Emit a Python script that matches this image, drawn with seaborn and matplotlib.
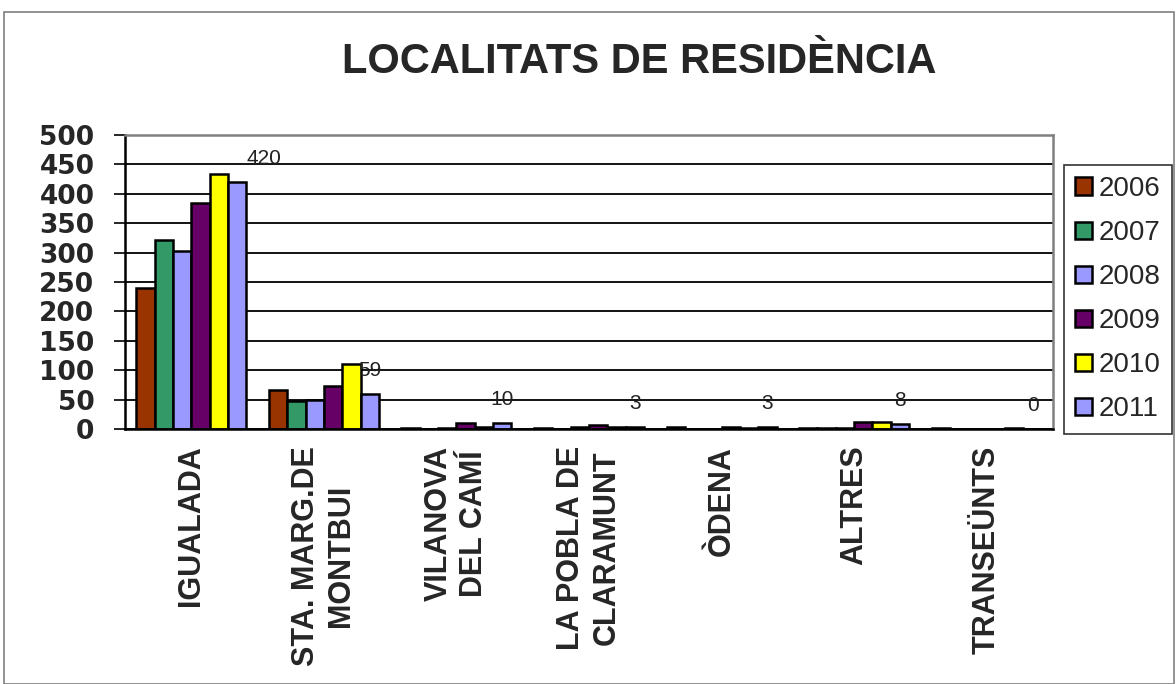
import matplotlib
matplotlib.use("Agg")
import matplotlib.pyplot as plt
from matplotlib.patches import Rectangle
from matplotlib.ticker import FixedLocator
import seaborn as sns
import pandas as pd
import numpy as np

# ---- data ----
localitats = ["IGUALADA", "STA. MARG.DE\nMONTBUI", "VILANOVA\nDEL CAMÍ",
              "LA POBLA DE\nCLARAMUNT", "ÒDENA", "ALTRES", "TRANSEÜNTS"]
anys = ["2006", "2007", "2008", "2009", "2010", "2011"]
v2006 = [239, 66, 2, 2, 4, 2, 1]
v2007 = [321, 48, 0, 0, 0, 2, 0]
v2008 = [303, 49, 2, 4, 0, 2, 0]
v2009 = [384, 73, 10, 7, 4, 12, 0]
v2010 = [434, 110, 4, 4, 2, 12, 2]
v2011 = [420, 59, 10, 3, 3, 8, 0]
colors = ["#993300", "#339966", "#9999FF", "#660066", "#FFFF00", "#9999FF"]
title = "LOCALITATS DE RESIDÈNCIA"

series = [v2006, v2007, v2008, v2009, v2010, v2011]
rows = []
for a, vals in zip(anys, series):
    for loc, v in zip(localitats, vals):
        rows.append({"loc": loc, "any": a, "val": v})
df = pd.DataFrame(rows)

sns.set_style("white")
plt.rcParams["font.family"] = ["Liberation Sans", "DejaVu Sans"]

W, H = 1176, 684
fig = plt.figure(figsize=(W / 100, H / 100), dpi=100)
left, right, top, bottom = 125, 1053, 135, 429
ax = fig.add_axes([left / W, 1 - bottom / H, (right - left) / W, (bottom - top) / H])

sns.barplot(data=df, x="loc", y="val", hue="any", order=localitats, hue_order=anys,
            palette=dict(zip(anys, colors)), width=0.83, gap=0,
            edgecolor="black", linewidth=1.8, saturation=1, ax=ax, legend=True,
            errorbar=None)

ax.set_ylim(0, 500)
ax.set_xlim(-0.5, len(localitats) - 0.5)
ax.set_yticks(np.arange(0, 501, 50))
ax.set_yticklabels([str(t) for t in range(0, 501, 50)], fontsize=19, fontweight="bold",
                   family=["DejaVu Sans"])
ax.set_xlabel("")
ax.set_ylabel("")

ax.set_xticks(range(len(localitats)))
ax.set_xticklabels(localitats, rotation=90, fontsize=22, fontweight="bold", ha="center",
                   va="top", multialignment="center", linespacing=1.22)
ax.tick_params(axis="x", which="major", length=0, pad=12)
ax.xaxis.set_minor_locator(FixedLocator(np.arange(-0.5, len(localitats), 1.0)))
ax.tick_params(axis="x", which="minor", length=7, width=1.2, direction="out", color="black")
ax.tick_params(axis="y", length=8, width=1.2, direction="out", pad=14, color="black", left=True)

ax.set_axisbelow(True)
ax.yaxis.grid(True, color="black", linewidth=1.3)
ax.xaxis.grid(False)
for s in ["left", "bottom"]:
    ax.spines[s].set_color("black")
    ax.spines[s].set_linewidth(1.8)
for s in ["top", "right"]:
    ax.spines[s].set_color("#808080")
    ax.spines[s].set_linewidth(1.8)
    ax.spines[s].set_visible(True)

# data labels on 2011 series
cont = ax.containers[-1]
for i, (p, v) in enumerate(zip(cont.patches, v2011)):
    x = p.get_x() + p.get_width() / 2
    y = p.get_height()
    dx = 19 if i == 0 else 0
    ax.annotate(str(v), (x, y), xytext=(dx, 17), textcoords="offset points",
                ha="center", va="center", fontsize=15, color="#222222")

# legend
leg = ax.legend(loc="upper left", bbox_to_anchor=(1064 / W, 1 - 165 / H),
                bbox_transform=fig.transFigure, fontsize=20, frameon=True,
                fancybox=False, edgecolor="black", handlelength=0.6,
                handleheight=0.6, handletextpad=0.25, labelspacing=0.65,
                borderpad=0.4, borderaxespad=0)
leg.get_frame().set_linewidth(1.2)

fig.text(639 / W, 1 - 62 / H, title, ha="center", va="center",
         fontsize=30, fontweight="bold")

# outer chart border
fig.add_artist(Rectangle((4 / W, 0), (1174 - 4) / W, 1 - 12 / H,
                         transform=fig.transFigure, fill=False,
                         edgecolor="#808080", linewidth=1.2))

fig.savefig("out.png", dpi=100)
